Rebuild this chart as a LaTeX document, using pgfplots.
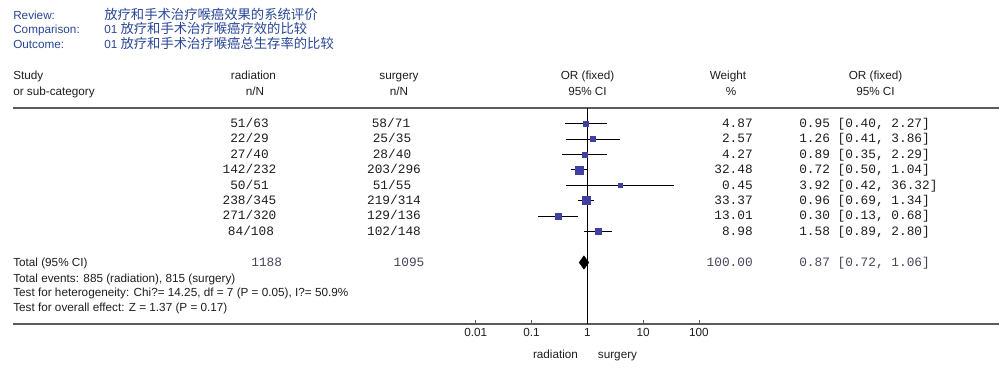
\documentclass[border=0pt]{standalone}
\usepackage{pgfplots}
\pgfplotsset{compat=1.18}
\usepackage{fontspec}
\setmainfont{Liberation Sans}
\setmonofont{Liberation Mono}
\newfontfamily\cjk{Noto Sans CJK SC}

\definecolor{sq}{RGB}{64,64,160}
\definecolor{ttl}{RGB}{40,70,150}
\definecolor{txt}{RGB}{30,30,30}
\definecolor{tot}{RGB}{70,70,90}
\definecolor{rulec}{RGB}{90,90,90}

\newcommand{\sz}{\fontsize{8.8}{10}\selectfont}
\newcommand{\mz}{\fontsize{9.6}{11}\selectfont\ttfamily}
\newcommand{\cz}{\fontsize{10}{12}\selectfont\cjk}
% square half-side from weight
\newcommand{\ms}[1]{0.375*(3.5+0.8*sqrt(#1))}

\begin{document}
\begin{tikzpicture}
\begin{scope}[x=0.75pt, y=-0.75pt, shift={(-9.75pt,243pt)}]
\useasboundingbox (0,0) rectangle (1004,375);
\end{scope}

\begin{axis}[
  name=ax, at={(0,0)}, anchor=south west,
  scale only axis, width=739.5pt, height=162pt,
  xmode=log, xmin=5.105e-11, xmax=2.388e7,
  ymin=51, ymax=267,
  axis x line=bottom, axis y line=none,
  axis line style={-, draw=rulec, line width=1.2pt},
  xtick={0.01,0.1,1,10,100},
  xticklabels={0.01,0.1,1,10,100},
  xminorticks=false,
  xtick style={draw=rulec, line width=0.6pt},
  major tick length=3pt, tick align=inside,
  xticklabel style={font=\sz, text=txt, anchor=base, inner sep=0pt, yshift=-9.5pt},
  clip=false,
]
\draw[rulec, line width=1.6pt] (rel axis cs:0,1) -- (rel axis cs:1,1);
\draw[black, line width=0.9pt] (axis cs:1,51) -- (axis cs:1,267);

% confidence intervals (y = 375 - pixel row)
\addplot[black, line width=0.75pt, unbounded coords=jump] coordinates {
 (0.40,251.3) (2.27,251.3) (nan,nan)
 (0.41,235.9) (3.86,235.9) (nan,nan)
 (0.35,220.5) (2.29,220.5) (nan,nan)
 (0.50,205.1) (1.04,205.1) (nan,nan)
 (0.42,189.7) (36.32,189.7) (nan,nan)
 (0.69,174.3) (1.34,174.3) (nan,nan)
 (0.13,158.9) (0.68,158.9) (nan,nan)
 (0.89,143.5) (2.80,143.5)
};

% weighted squares (weights 4.87, 2.57, 4.27, 32.48, 0.45, 33.37, 13.01, 8.98)
\addplot[only marks, mark=square*, color=sq, mark size={\ms{4.87}}]  coordinates {(0.95,251.3)};
\addplot[only marks, mark=square*, color=sq, mark size={\ms{2.57}}]  coordinates {(1.26,235.9)};
\addplot[only marks, mark=square*, color=sq, mark size={\ms{4.27}}]  coordinates {(0.89,220.5)};
\addplot[only marks, mark=square*, color=sq, mark size={\ms{32.48}}] coordinates {(0.72,205.1)};
\addplot[only marks, mark=square*, color=sq, mark size={\ms{0.45}}]  coordinates {(3.92,189.7)};
\addplot[only marks, mark=square*, color=sq, mark size={\ms{33.37}}] coordinates {(0.96,174.3)};
\addplot[only marks, mark=square*, color=sq, mark size={\ms{13.01}}] coordinates {(0.30,158.9)};
\addplot[only marks, mark=square*, color=sq, mark size={\ms{8.98}}]  coordinates {(1.58,143.5)};

% pooled diamond
\addplot[fill=black, draw=black, line width=0.5pt] coordinates {
 (0.72,112.5) (0.87,119.0) (1.06,112.5) (0.87,106.0)} -- cycle;
\end{axis}

\begin{scope}[x=0.75pt, y=-0.75pt, shift={(-9.75pt,243pt)}, every node/.style={inner sep=0pt}]
% titles
\node[anchor=base west, text=ttl, font=\sz] at (13,19.2) {Review:};
\node[anchor=base west, text=ttl, font=\sz] at (13,33.7) {Comparison:};
\node[anchor=base west, text=ttl, font=\sz] at (13,48.7) {Outcome:};
\node[anchor=base west, text=ttl, font=\sz] at (104,19.2) {{\cz 放疗和手术治疗喉癌效果的系统评价}};
\node[anchor=base west, text=ttl, font=\sz] at (104,33.7) {01 {\cz 放疗和手术治疗喉癌疗效的比较}};
\node[anchor=base west, text=ttl, font=\sz] at (104,48.7) {01 {\cz 放疗和手术治疗喉癌总生存率的比较}};
% header
\begin{scope}[every node/.append style={text=txt, font=\sz}]
\node[anchor=base west] at (13,79.7) {Study};
\node[anchor=base west] at (13,95.7) {or sub-category};
\node[anchor=base] at (253.5,79.7) {radiation};
\node[anchor=base] at (255,95.7) {n/N};
\node[anchor=base] at (399,79.7) {surgery};
\node[anchor=base] at (399,95.7) {n/N};
\node[anchor=base] at (587.5,79.7) {OR (fixed)};
\node[anchor=base] at (587.5,95.7) {95\% CI};
\node[anchor=base] at (728,79.7) {Weight};
\node[anchor=base] at (731,95.7) {\%};
\node[anchor=base] at (875.5,79.7) {OR (fixed)};
\node[anchor=base] at (875.5,95.7) {95\% CI};
% total & tests
\node[anchor=base west] at (13,266.2) {Total (95\% CI)};
\node[anchor=base west] at (13,282.2) {Total events: 885 (radiation), 815 (surgery)};
\node[anchor=base west] at (13,296.7) {Test for heterogeneity: Chi?= 14.25, df = 7 (P = 0.05), I?= 50.9\%};
\node[anchor=base west] at (13,311.7) {Test for overall effect: Z = 1.37 (P = 0.17)};
\node[anchor=base] at (555.5,358.5) {radiation};
\node[anchor=base] at (617.5,358.5) {surgery};
\end{scope}
% data columns
\begin{scope}[every node/.append style={text=txt, font=\mz}]
\node[anchor=base] at (249.5,127.5) {51/63};
\node[anchor=base] at (249.5,142.9) {22/29};
\node[anchor=base] at (249.5,158.3) {27/40};
\node[anchor=base] at (249.5,173.7) {142/232};
\node[anchor=base] at (249.5,189.1) {50/51};
\node[anchor=base] at (249.5,204.5) {238/345};
\node[anchor=base] at (249.5,219.9) {271/320};
\node[anchor=base] at (251,235.3) {84/108};
\node[anchor=base] at (391,127.5) {58/71};
\node[anchor=base] at (392,142.9) {25/35};
\node[anchor=base] at (392,158.3) {28/40};
\node[anchor=base] at (394,173.7) {203/296};
\node[anchor=base] at (392,189.1) {51/55};
\node[anchor=base] at (394,204.5) {219/314};
\node[anchor=base] at (394,219.9) {129/136};
\node[anchor=base] at (394,235.3) {102/148};
\node[anchor=base east] at (753,127.5) {4.87};
\node[anchor=base east] at (753,142.9) {2.57};
\node[anchor=base east] at (753,158.3) {4.27};
\node[anchor=base east] at (753,173.7) {32.48};
\node[anchor=base east] at (753,189.1) {0.45};
\node[anchor=base east] at (753,204.5) {33.37};
\node[anchor=base east] at (753,219.9) {13.01};
\node[anchor=base east] at (753,235.3) {8.98};
\node[anchor=base west] at (799,127.5) {0.95 [0.40, 2.27]};
\node[anchor=base west] at (799,142.9) {1.26 [0.41, 3.86]};
\node[anchor=base west] at (799,158.3) {0.89 [0.35, 2.29]};
\node[anchor=base west] at (799,173.7) {0.72 [0.50, 1.04]};
\node[anchor=base west] at (799,189.1) {3.92 [0.42, 36.32]};
\node[anchor=base west] at (799,204.5) {0.96 [0.69, 1.34]};
\node[anchor=base west] at (799,219.9) {0.30 [0.13, 0.68]};
\node[anchor=base west] at (799,235.3) {1.58 [0.89, 2.80]};
\end{scope}
\begin{scope}[every node/.append style={text=tot, font=\mz}]
\node[anchor=base] at (266.7,266.3) {1188};
\node[anchor=base] at (409,266.3) {1095};
\node[anchor=base east] at (753,266.3) {100.00};
\node[anchor=base west] at (799,266.3) {0.87 [0.72, 1.06]};
\end{scope}
\end{scope}
\end{tikzpicture}
\end{document}
